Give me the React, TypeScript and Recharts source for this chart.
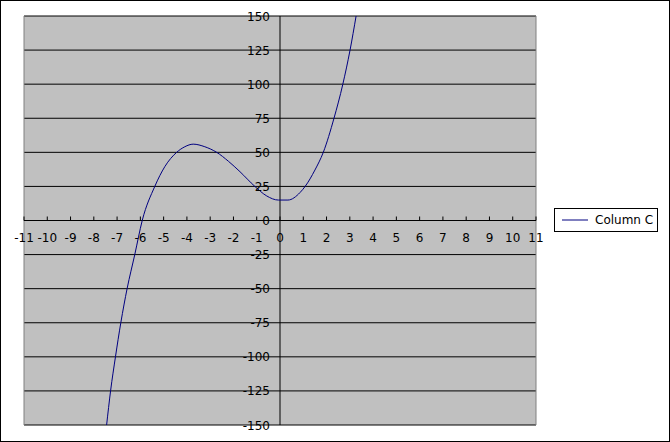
import { LineChart, Line, XAxis, YAxis, CartesianGrid, ReferenceLine, Legend } from 'recharts';

// points
const xValues = [
  -7.45, -7.28, -7.07, -6.84, -6.57, -6.24, -5.92, -5.38, -4.95, -4.44, -4.09, -3.73, -3.23, -2.72,
  -2.22, -1.72, -1.08, -0.57, -0.07, 0.34, 0.86, 1.08, 1.5, 1.86, 2.32, 2.7, 3.01, 3.27,
];
const colC = [
  -150, -125, -100, -75, -50, -25, 0, 25, 39.5, 50, 54.1, 56, 54.1, 50,
  43.5, 35.8, 25, 18, 15, 15, 20.5, 25, 37, 50, 75, 100, 125, 150,
];
const xTicks = [-11, -10, -9, -8, -7, -6, -5, -4, -3, -2, -1, 0, 1, 2, 3, 4, 5, 6, 7, 8, 9, 10, 11];
const yTicks = [-150, -125, -100, -75, -50, -25, 0, 25, 50, 75, 100, 125, 150];

const chartData = xValues.map((x, i) => ({ x, y: colC[i] }));

const W = 668;
const H = 440;
const margin = { top: 15, right: 133, bottom: 15, left: 22 };
const AXIS_SIZE = 1;
const plotW = W - margin.left - AXIS_SIZE - margin.right;
const plotH = H - margin.top - margin.bottom - AXIS_SIZE;
const ZERO_X = margin.left + AXIS_SIZE + plotW / 2;
const ZERO_Y = margin.top + plotH / 2;
const font = '"DejaVu Sans", sans-serif';

const XTick = (props: any) => {
  const { x, payload } = props;
  return (
    <g>
      <line x1={x} x2={x} y1={ZERO_Y} y2={ZERO_Y - 4} stroke="#000" />
      <text x={x} y={ZERO_Y + 21} textAnchor="middle" fontSize={12} fontFamily={font} fill="#000">
        {payload.value}
      </text>
    </g>
  );
};

const YTick = (props: any) => {
  const { y, payload } = props;
  return (
    <text x={ZERO_X - 10} y={y} dy={4.5} textAnchor="end" fontSize={12} fontFamily={font} fill="#000">
      {payload.value}
    </text>
  );
};

const LegendBox = () => (
  <div
    style={{
      border: '1px solid #000',
      width: 102,
      height: 22,
      display: 'flex',
      alignItems: 'center',
      background: '#fff',
      fontFamily: font,
      fontSize: 12,
      color: '#000',
    }}
  >
    <svg width={40} height={22}>
      <line x1={7} x2={33} y1={11} y2={11} stroke="#000080" />
    </svg>
    <span>Column C</span>
  </div>
);

export default function App() {
  return (
    <div
      style={{
        position: 'absolute',
        left: 0,
        top: 0,
        width: 670,
        height: 442,
        border: '1px solid #000',
        boxSizing: 'border-box',
        background: '#fff',
      }}
    >
      <LineChart width={W} height={H} data={chartData} margin={margin}>
        <CartesianGrid horizontal vertical={false} stroke="#000" fill="#c0c0c0" fillOpacity={1} />
        <XAxis
          type="number"
          dataKey="x"
          domain={[-11, 11]}
          ticks={xTicks}
          interval={0}
          height={AXIS_SIZE}
          axisLine={false}
          tickLine={false}
          tick={(p: any) => <XTick {...p} />}
          allowDataOverflow
        />
        <YAxis
          type="number"
          domain={[-150, 150]}
          ticks={yTicks}
          interval={0}
          width={AXIS_SIZE}
          axisLine={false}
          tickLine={false}
          tick={(p: any) => <YTick {...p} />}
          allowDataOverflow
        />
        <ReferenceLine x={-11} stroke="#808080" />
        <ReferenceLine x={11} stroke="#808080" />
        <ReferenceLine x={0} stroke="#000" />
        <ReferenceLine y={0} stroke="#000" />
        <Line
          type="monotone"
          dataKey="y"
          name="Column C"
          stroke="#000080"
          strokeWidth={1}
          dot={false}
          isAnimationActive={false}
        />
        <Legend
          layout="vertical"
          align="center"
          verticalAlign="middle"
          content={LegendBox}
          wrapperStyle={{ left: 553, top: 207, width: 104 }}
        />
      </LineChart>
    </div>
  );
}
